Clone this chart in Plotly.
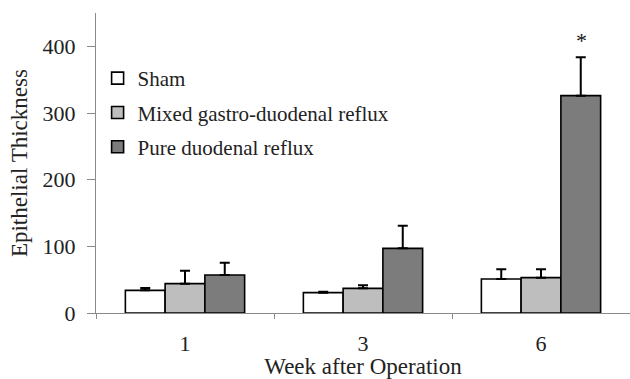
import plotly.graph_objects as go

# Week after operation (category axis)
weeks = ["1", "3", "6"]

# Mean epithelial thickness per group
sham = [34, 30.5, 51]
mixed = [44, 37, 53]
pure = [57, 97, 326]

# Upper error (SD) per group
sham_err = [3.5, 1.5, 14.5]
mixed_err = [19.5, 4.5, 12.5]
pure_err = [18.5, 34, 57.5]

series_names = ["Sham", "Mixed gastro-duodenal reflux", "Pure duodenal reflux"]
series_colors = ["#ffffff", "#bebebe", "#7c7c7c"]

FONT = "'Liberation Serif', 'Times New Roman', serif"
LEGEND_FS = 21
TICK_FS = 22
TITLE_FS = 23
INK = "#222222"

fig = go.Figure()
for name, vals, errs, col in zip(series_names, [sham, mixed, pure],
                                 [sham_err, mixed_err, pure_err], series_colors):
    fig.add_trace(go.Bar(
        x=weeks, y=vals, name=name,
        marker=dict(color=col, line=dict(color="#000000", width=1.6)),
        error_y=dict(type="data", symmetric=False, array=errs,
                     arrayminus=[0] * len(errs), color="#000000",
                     thickness=2, width=5),
        legendgroup=name,
    ))

# significance marker above the week-6 pure duodenal reflux bar
fig.add_annotation(x=weeks.index("6"), y=pure[2] + pure_err[2] + 25, text="*",
                   showarrow=False, xshift=40,
                   font=dict(family=FONT, size=22, color="#111111"))

# y axis title
fig.add_annotation(xref="paper", yref="paper", x=-0.144, y=0.5,
                   text="Epithelial Thickness", textangle=-90, showarrow=False,
                   xanchor="center", yanchor="middle",
                   font=dict(family=FONT, size=TITLE_FS, color=INK))

fig.update_layout(
    width=630, height=379,
    margin=dict(l=96, r=0, t=13, b=66),
    paper_bgcolor="white", plot_bgcolor="white",
    barmode="group", bargap=0.33, bargroupgap=0,
    font=dict(family=FONT, size=LEGEND_FS, color=INK),
    showlegend=True,
    legend=dict(x=0.003, y=0.85, xanchor="left", yanchor="top",
                bgcolor="rgba(0,0,0,0)", traceorder="grouped",
                tracegroupgap=4, itemwidth=30,
                font=dict(family=FONT, size=LEGEND_FS, color=INK)),
    xaxis=dict(
        type="category", showline=True, linecolor="#8a8a8a", linewidth=1,
        ticks="outside", tickson="boundaries", ticklen=5, tickcolor="#8a8a8a",
        showgrid=False, zeroline=False, ticklabelstandoff=11,
        tickfont=dict(family=FONT, size=TICK_FS, color=INK),
        title=dict(text="Week after Operation", standoff=0,
                   font=dict(family=FONT, size=TITLE_FS, color=INK)),
    ),
    yaxis=dict(
        range=[0, 450], tickvals=[0, 100, 200, 300, 400],
        showline=True, linecolor="#8a8a8a", linewidth=1,
        ticks="outside", ticklen=8, tickcolor="#8a8a8a",
        showgrid=False, zeroline=False, ticklabelstandoff=7,
        tickfont=dict(family=FONT, size=TICK_FS, color=INK),
    ),
)

fig.write_html("out.html")
